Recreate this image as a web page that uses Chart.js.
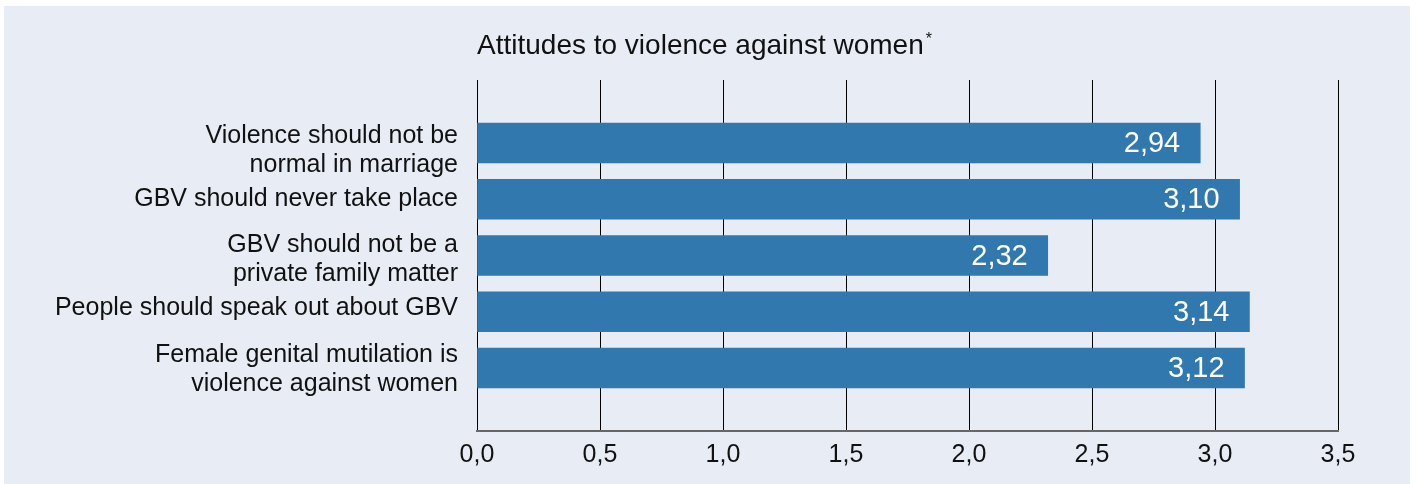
<!DOCTYPE html>
<html>
<head>
<meta charset="utf-8">
<script src="https://cdn.jsdelivr.net/npm/chart.js@4/dist/chart.umd.min.js"></script>
<style>
  html, body { margin: 0; padding: 0; background: #fff; }
  #panel { position: absolute; left: 4px; top: 6px; width: 1406px; height: 478px; background: #e8ecf5; }
  #wrap { position: absolute; left: 0; top: 0; width: 1416px; height: 484px; }
</style>
</head>
<body>
<div id="panel"></div>
<div id="wrap"><canvas id="chart"></canvas></div>
<script>
// data
const categories = [
  ["Violence should not be", "normal in marriage"],
  "GBV should never take place",
  ["GBV should not be a", "private family matter"],
  "People should speak out about GBV",
  ["Female genital mutilation is", "violence against women"]
]
const scores = [2.94, 3.10, 2.32, 3.14, 3.12]
const xTicks = [0, 0.5, 1, 1.5, 2, 2.5, 3, 3.5]
const title = "Attitudes to violence against women"

const FONT = "'Liberation Sans', Arial, sans-serif"
const comma = (v, d) => v.toFixed(d).replace('.', ',')
// the labels in the original don't sit exactly on the bar centres (fraction of a row)
const labelNudge = [0.13, -0.01, 0.08, -0.07, 0.035]

// title + value labels, drawn on top of the chart
const extras = {
  id: 'extras',
  afterDatasetsDraw(chart) {
    const c = chart.ctx
    const { left } = chart.chartArea
    c.save()
    c.fillStyle = '#111'
    c.textBaseline = 'alphabetic'
    c.textAlign = 'left'
    c.font = `28px ${FONT}`
    c.fillText(title, left, 54)
    const w = c.measureText(title).width
    c.font = `16px ${FONT}`
    c.fillText('*', left + w + 2, 44)

    c.fillStyle = '#fff'
    c.font = `29px ${FONT}`
    c.textAlign = 'right'
    c.textBaseline = 'middle'
    chart.getDatasetMeta(0).data.forEach((bar, i) => {
      c.fillText(comma(scores[i], 2), bar.x - 20, bar.y + 1)
    })
    c.restore()
  }
}

new Chart(document.getElementById('chart'), {
  type: 'bar',
  data: {
    datasets: [{
      data: scores.map((v, i) => ({ x: v, y: i })),
      backgroundColor: '#3178ae',
      borderWidth: 0,
      barThickness: 40
    }]
  },
  options: {
    indexAxis: 'y',
    responsive: true,
    maintainAspectRatio: false,
    animation: false,
    layout: { padding: { top: 80, right: 78, bottom: 0, left: 0 } },
    scales: {
      x: {
        type: 'linear',
        min: 0,
        max: 3.5,
        afterBuildTicks: s => { s.ticks = xTicks.map(v => ({ value: v })) },
        afterFit: s => { s.height = 53 },
        ticks: {
          color: '#111',
          padding: 9,
          font: { family: FONT, size: 25 },
          callback: v => comma(v, 1)
        },
        grid: { color: '#000', lineWidth: 1, drawTicks: false },
        border: { color: '#666', width: 2 }
      },
      y: {
        type: 'linear',
        reverse: true,
        offset: false,
        min: -1.12,
        max: 5.12,
        afterBuildTicks: s => { s.ticks = categories.map((_, i) => ({ value: i + labelNudge[i] })) },
        afterFit: s => { s.width = 477 },
        ticks: {
          color: '#111',
          padding: 19,
          font: { family: FONT, size: 25, lineHeight: 1.16 },
          callback: v => categories[Math.round(v)]
        },
        grid: { display: false, drawTicks: false, offset: false },
        border: { display: false }
      }
    },
    plugins: {
      legend: { display: false },
      tooltip: { enabled: false }
    }
  },
  plugins: [extras]
})
</script>
</body>
</html>
